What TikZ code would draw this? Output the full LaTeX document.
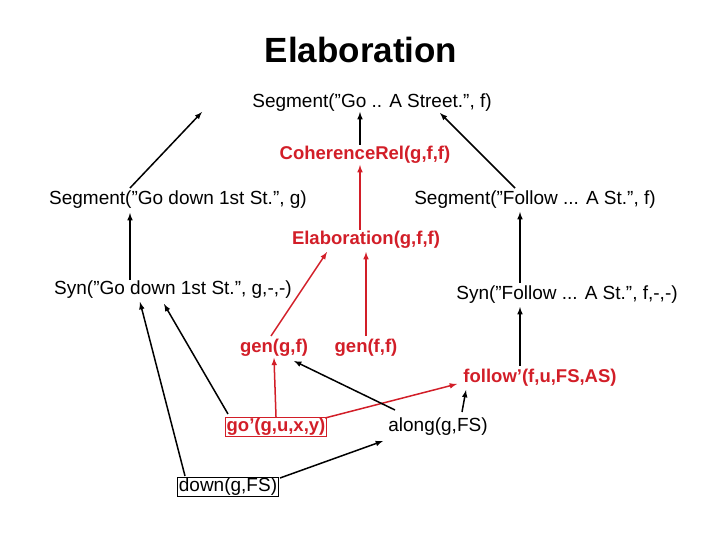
\documentclass[tikz,border=0pt]{standalone}
\usepackage{fontspec}
\setmainfont{Liberation Sans}
\definecolor{rd}{RGB}{210,30,40}
\newcommand\qq{\char34\relax}
\newcommand\ap{\char39\relax}
\begin{document}
\begin{tikzpicture}[x=1pt,y=-1pt,
  lbl/.style={font=\fontsize{19}{21}\selectfont,inner sep=1pt},
  rlbl/.style={lbl,text=rd,font=\fontsize{18.5}{20}\selectfont\bfseries},
  blk/.style={-latex,line width=1.5pt,black},
  red/.style={-latex,line width=1.5pt,rd}]
\useasboundingbox (0,0) rectangle (720,540);
\node[font=\fontsize{35}{38}\selectfont\bfseries] (title) at (361,50) {Elaboration};
\node[lbl] (segTop) at (372,103) {Segment(\qq Go .. A Street.\qq, f)};
\node[rlbl] (coh) at (365,155) {CoherenceRel(g,f,f)};
\node[lbl] (segG) at (178,200) {Segment(\qq Go down 1st St.\qq, g)};
\node[lbl] (segF) at (535,200) {Segment(\qq Follow ... A St.\qq, f)};
\node[rlbl] (elab) at (366,240) {Elaboration(g,f,f)};
\node[lbl] (synG) at (173,290) {Syn(\qq Go down 1st St.\qq, g,-,-)};
\node[lbl] (synF) at (567,295) {Syn(\qq Follow ... A St.\qq, f,-,-)};
\node[rlbl] (gengf) at (274,348) {gen(g,f)};
\node[rlbl] (genff) at (366,348) {gen(f,f)};
\node[rlbl] (follow) at (540,378) {follow\ap(f,u,FS,AS)};
\node[rlbl,draw=rd,line width=1pt] (go) at (276,427) {go\ap(g,u,x,y)};
\node[lbl,draw,line width=1pt] (down) at (228,487) {down(g,FS)};
\node[lbl] (along) at (438,427) {along(g,FS)};
\coordinate (segTopL) at (202,112);
\coordinate (segTopR) at (440,113);
\draw[blk] (130,188) -- (segTopL);
\draw[blk] (360,145) -- (360,112);
\draw[blk] (515,188) -- (segTopR);
\draw[red] (360,230) -- (360,165);
\draw[blk] (130,280) -- (130,213);
\draw[blk] (520,283) -- (520,212);
\draw[red] (271,336) -- (327,252);
\draw[red] (366,336) -- (366,252);
\draw[blk] (520,366) -- (520,307);
\draw[red] (go.north) -- (gengf.south);
\draw[red] (325,418) -- (457,384);
\draw[blk] (395,410) -- (294,361);
\draw[blk] (462,412) -- (466,390);
\draw[blk] (280,478) -- (383,441);
\draw[blk] (228,414) -- (164,304);
\draw[blk] (185,476) -- (140,302);
\end{tikzpicture}
\end{document}
